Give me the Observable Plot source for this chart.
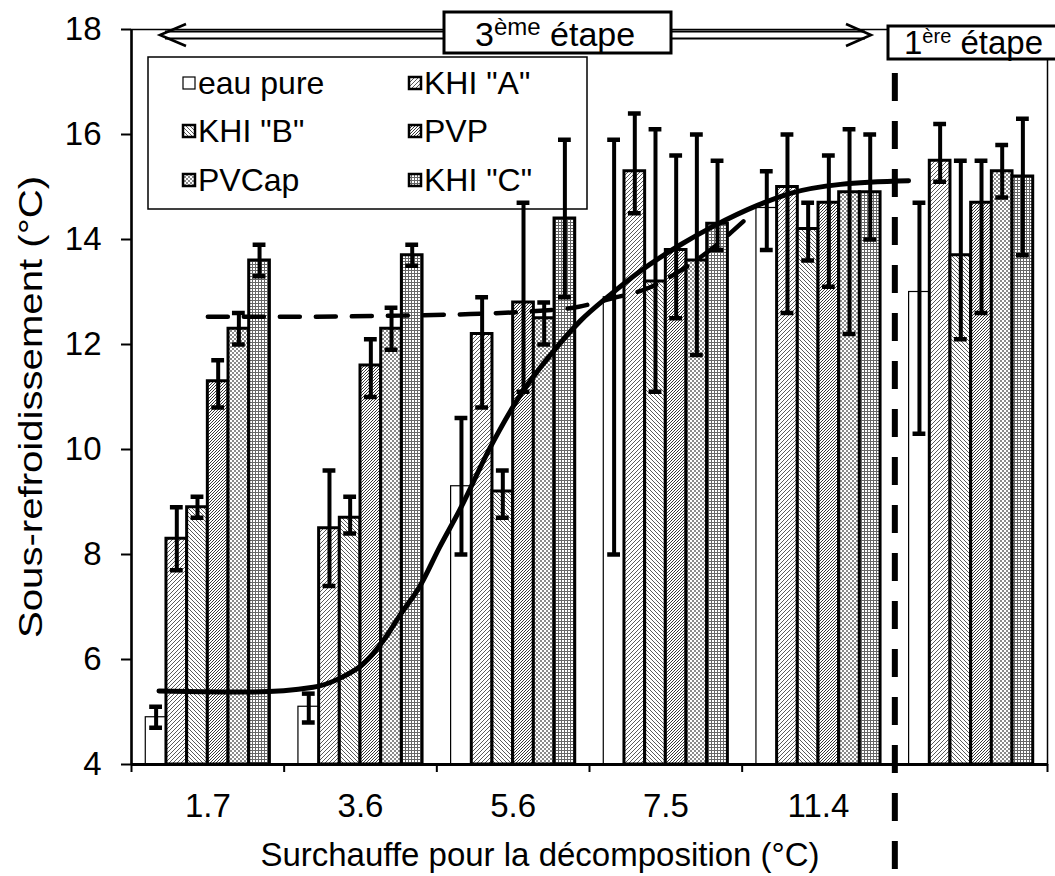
<!DOCTYPE html>
<html><head><meta charset="utf-8">
<script src="https://cdn.jsdelivr.net/npm/d3@7"></script>
<script src="https://cdn.jsdelivr.net/npm/@observablehq/plot@0.6"></script>
<style>
body{margin:0;background:#fff;}
#chart{position:relative;width:1055px;height:876px;}
#chart svg{font-family:"Liberation Sans",Arial,sans-serif;}
</style></head><body>
<svg width="0" height="0" style="position:absolute">
<defs>
<pattern id="pA" width="4" height="4" patternUnits="userSpaceOnUse">
<rect width="4" height="4" fill="#fff"/>
<path d="M-1,1 l2,-2 M0,4 l4,-4 M3,5 l2,-2" stroke="#5a5a5a" stroke-width="1"/>
</pattern>
<pattern id="pB" width="4" height="4" patternUnits="userSpaceOnUse">
<rect width="4" height="4" fill="#fff"/>
<path d="M-1,3 l2,2 M0,0 l4,4 M3,-1 l2,2" stroke="#5a5a5a" stroke-width="1"/>
</pattern>
<pattern id="pPVP" width="3" height="3" patternUnits="userSpaceOnUse" shape-rendering="crispEdges">
<rect width="3" height="3" fill="#fff"/>
<rect x="0" y="0" width="1" height="1" fill="#333"/>
<rect x="2" y="1" width="1" height="1" fill="#333"/>
<rect x="1" y="2" width="1" height="1" fill="#444"/>
</pattern>
<pattern id="pPVCap" width="4" height="4" patternUnits="userSpaceOnUse" shape-rendering="crispEdges">
<rect width="4" height="4" fill="#fff"/>
<rect x="0" y="0" width="2" height="2" fill="#8a8a8a"/>
<rect x="2" y="2" width="2" height="2" fill="#8a8a8a"/>
</pattern>
<pattern id="pC" width="3" height="3" patternUnits="userSpaceOnUse" shape-rendering="crispEdges">
<rect width="3" height="3" fill="#fff"/>
<rect x="0" y="0" width="3" height="1" fill="#666"/>
<rect x="0" y="0" width="1" height="3" fill="#666"/>
</pattern>
</defs>
</svg>
<div id="chart"></div>
<script>
// ---- data ----
const categories = ["1.7", "3.6", "5.6", "7.5", "11.4", ""];
const series = ["eau pure", "KHI \"A\"", "KHI \"B\"", "PVP", "PVCap", "KHI \"C\""];

const eauPure   = [4.9, 5.1, 9.3, 12.9, 14.6, 13.0];
const eauPureLo = [4.7, 4.8, 8.0, 8.0, 13.8, 10.3];
const eauPureHi = [5.1, 5.35, 10.6, 15.9, 15.3, 14.7];

const khiA   = [8.3, 8.5, 12.2, 15.3, 15.0, 15.5];
const khiALo = [7.7, 7.4, 10.8, 14.5, 12.6, 15.1];
const khiAHi = [8.9, 9.6, 12.9, 16.4, 16.0, 16.2];

const khiB   = [8.9, 8.7, 9.2, 13.2, 14.2, 13.7];
const khiBLo = [8.7, 8.4, 8.7, 11.1, 13.6, 12.1];
const khiBHi = [9.1, 9.1, 9.6, 16.1, 14.7, 15.5];

const pvp   = [11.3, 11.6, 12.8, 13.8, 14.7, 14.7];
const pvpLo = [10.8, 11.0, 11.1, 12.5, 13.1, 12.6];
const pvpHi = [11.7, 12.1, 14.7, 15.6, 15.6, 15.5];

const pvcap   = [12.3, 12.3, 12.5, 13.6, 14.9, 15.3];
const pvcapLo = [12.0, 11.9, 12.0, 11.8, 12.2, 14.8];
const pvcapHi = [12.6, 12.7, 12.8, 16.0, 16.1, 15.8];

const khiC   = [13.6, 13.7, 14.4, 14.3, 14.9, 15.2];
const khiCLo = [13.3, 13.5, 12.9, 13.8, 14.0, 13.7];
const khiCHi = [13.9, 13.9, 15.9, 15.5, 16.0, 16.3];

// fitted curves (x in category units, 0 = left edge of first group)
const sigmoidX = [0.18, 0.78, 1.19, 1.37, 1.52, 1.65, 1.76, 1.89, 2.02, 2.15, 2.35, 2.55, 2.744, 2.94, 3.137, 3.334, 3.596, 3.81, 4.10, 4.316, 4.644, 5.09];
const sigmoidY = [5.40, 5.38, 5.47, 5.65, 5.92, 6.36, 6.85, 7.4, 8.15, 8.85, 10.04, 11.05, 11.8, 12.45, 12.95, 13.4, 13.9, 14.25, 14.65, 14.88, 15.05, 15.12];
const dashX = [0.50, 1.11, 1.76, 2.22, 2.61, 2.93, 3.15, 3.39, 3.58, 3.79, 4.01];
const dashY = [12.53, 12.53, 12.55, 12.58, 12.63, 12.72, 12.88, 13.08, 13.38, 13.8, 14.35];

const yTicks = [4, 6, 8, 10, 12, 14, 16, 18];
const stageBoundary = 5;
const yTitle = "Sous-refroidissement (°C)";
const xTitle = "Surchauffe pour la décomposition (°C)";
const stage3 = ["3", "ème", " étape"];
const stage1 = ["1", "ère", " étape"];

// ---- build table ----
const values = [eauPure, khiA, khiB, pvp, pvcap, khiC];
const los = [eauPureLo, khiALo, khiBLo, pvpLo, pvcapLo, khiCLo];
const his = [eauPureHi, khiAHi, khiBHi, pvpHi, pvcapHi, khiCHi];
const patterns = ["#fff", "url(#pA)", "url(#pB)", "url(#pPVP)", "url(#pPVCap)", "url(#pC)"];
const BW = 0.1355, PAD = (1 - 6 * BW) / 2, CAP = 0.042;
const rows = [];
categories.forEach((c, i) => series.forEach((s, j) => {
  const x1 = i + PAD + j * BW;
  rows.push({cat: i, s: j, name: s, v: values[j][i], lo: los[j][i], hi: his[j][i], x1, x2: x1 + BW, xc: x1 + BW / 2});
}));
const sig = sigmoidX.map((x, k) => ({x, y: sigmoidY[k]}));
const dsh = dashX.map((x, k) => ({x, y: dashY[k]}));
const boundaries = d3.range(categories.length + 1);
const centers = categories.map((c, i) => i + 0.5).filter((d, i) => categories[i] !== "");

const svg = Plot.plot({
  width: 1055, height: 876,
  marginLeft: 131, marginRight: 8, marginTop: 29, marginBottom: 112,
  style: {fontFamily: '"Liberation Sans", Arial, sans-serif', fontSize: "33px", background: "#fff", color: "#000", overflow: "visible"},
  x: {domain: [0, categories.length], axis: null},
  y: {domain: [4, 18], axis: null},
  marks: [
    ...series.map((s, j) => Plot.rect(rows.filter(r => r.s === j), {
      x1: "x1", x2: "x2", y1: 4, y2: "v", fill: patterns[j], stroke: "#000", strokeWidth: j === 0 ? 1.2 : 3
    })),
    Plot.ruleX(rows, {x: "xc", y1: "lo", y2: "hi", stroke: "#000", strokeWidth: 4}),
    Plot.ruleY(rows, {y: "hi", x1: d => d.xc - CAP, x2: d => d.xc + CAP, stroke: "#000", strokeWidth: 4.5}),
    Plot.ruleY(rows, {y: "lo", x1: d => d.xc - CAP, x2: d => d.xc + CAP, stroke: "#000", strokeWidth: 4.5}),
    Plot.line(dsh, {x: "x", y: "y", curve: "monotone-x", stroke: "#000", strokeWidth: 4.5, strokeDasharray: "20,16"}),
    Plot.line(sig, {x: "x", y: "y", curve: "monotone-x", stroke: "#000", strokeWidth: 5}),
    Plot.frame({stroke: "#000", strokeWidth: 1.5}),
    Plot.ruleX([0], {stroke: "#000", strokeWidth: 2.5}),
    Plot.ruleY([4], {stroke: "#000", strokeWidth: 3}),
    Plot.axisY({ticks: yTicks, tickSize: 10, tickPadding: 20, strokeWidth: 2, fontSize: 33, label: null}),
    Plot.axisX({ticks: boundaries, tickSize: 8, tickFormat: () => "", strokeWidth: 2, label: null}),
    Plot.axisX({ticks: centers, tickSize: 0, tickPadding: 29, tickFormat: d => categories[Math.floor(d)], fontSize: 33, label: null}),
    Plot.ruleX([stageBoundary], {y1: 2.0, y2: 18.35, stroke: "#000", strokeWidth: 6, strokeDasharray: "28,20"})
  ]
});

const S = d3.select(svg);
// axis titles
S.append("text").attr("x", 540).attr("y", 866).attr("text-anchor", "middle").attr("font-size", 33).attr("fill", "#000").text(xTitle);
S.append("text").attr("transform", "translate(42,407) rotate(-90)").attr("text-anchor", "middle").attr("font-size", 34)
  .attr("textLength", 462).attr("lengthAdjust", "spacingAndGlyphs").attr("fill", "#000").text(yTitle);

// legend
const L = S.append("g").attr("text-anchor", "start");
L.append("rect").attr("x", 148).attr("y", 57).attr("width", 439).attr("height", 152).attr("fill", "none").attr("stroke", "#000").attr("stroke-width", 1.5);
const legPos = [[183, 83], [409, 83], [183, 131], [409, 131], [183, 180], [409, 180]];
series.forEach((s, j) => {
  const [lx, ly] = legPos[j];
  L.append("rect").attr("x", lx).attr("y", ly - 6).attr("width", 12).attr("height", 12)
    .attr("fill", patterns[j]).attr("stroke", "#000").attr("stroke-width", j === 0 ? 1.2 : 2.5);
  L.append("text").attr("x", lx + 15).attr("y", ly + 11).attr("text-anchor", "start").attr("font-size", 32).attr("fill", "#000").text(s);
});

// double arrow
const A = S.append("g").attr("stroke", "#000").attr("fill", "none").attr("stroke-width", 2.2);
A.append("line").attr("x1", 165).attr("x2", 865).attr("y1", 31.5).attr("y2", 31.5);
A.append("line").attr("x1", 165).attr("x2", 865).attr("y1", 38.5).attr("y2", 38.5);
A.append("path").attr("d", "M186,24 L160,35 L186,46").attr("stroke-width", 2.6);
A.append("path").attr("d", "M846,24 L871,35 L846,46").attr("stroke-width", 2.6);

function stageBox(x, y, w, h, tx, ty, parts, fs, sfs) {
  S.append("rect").attr("x", x).attr("y", y).attr("width", w).attr("height", h)
    .attr("fill", "#fff").attr("stroke", "#000").attr("stroke-width", 3);
  const t = S.append("text").attr("x", tx).attr("y", ty).attr("text-anchor", "start").attr("font-size", fs).attr("fill", "#000");
  t.append("tspan").text(parts[0]);
  t.append("tspan").attr("font-size", sfs).attr("dy", -11).text(parts[1]);
  t.append("tspan").attr("dy", 11).text(parts[2]);
}
stageBox(444, 12, 227, 41, 475, 46, stage3, 34, 24);
stageBox(888, 26, 180, 33, 904, 54, stage1, 33, 20);

document.getElementById("chart").appendChild(svg);
</script>
</body></html>
